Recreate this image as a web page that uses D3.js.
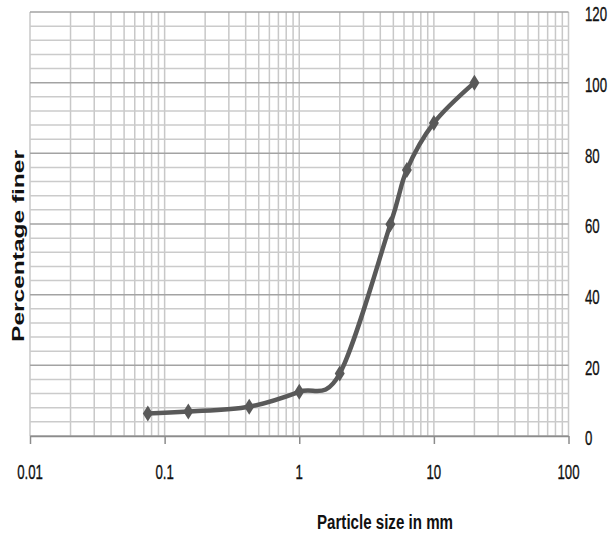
<!DOCTYPE html>
<html>
<head>
<meta charset="utf-8">
<script src="https://cdn.jsdelivr.net/npm/d3@7"></script>
<style>
  html, body { margin: 0; padding: 0; background: #ffffff; }
  svg { display: block; }
  text { font-family: "Liberation Sans", Arial, sans-serif; fill: #111111; }
  .ticklabel { stroke: #111111; stroke-width: 0.35px; }
</style>
</head>
<body>
<svg id="chart" width="611" height="535"></svg>
<script>
// Sieve analysis: particle size (mm) against cumulative percentage passing
const sizes  = [0.075, 0.15, 0.425, 1, 2, 4.75, 6.3, 10, 20];
const finer  = [6.4, 6.9, 8.3, 12.5, 17.7, 59.9, 75.3, 88.6, 100];
const xTickValues = [0.01, 0.1, 1, 10, 100];
const xTickLabels = ["0.01", "0.1", "1", "10", "100"];
const yTickValues = [0, 20, 40, 60, 80, 100, 120];
const yTickLabels = ["0", "20", "40", "60", "80", "100", "120"];
const xTitle = "Particle size in mm";
const yTitle = "Percentage finer";

const svg = d3.select("#chart");
const plotL = 30, plotR = 568.5, plotT = 12, plotB = 436;

const x = d3.scaleLog().domain([0.01, 100]).range([plotL, plotR]);
const y = d3.scaleLinear().domain([0, 120]).range([plotB, plotT]);

const data = sizes.map((s, i) => ({ s, p: finer[i] }));

// text is drawn tall and condensed
const SX = 0.63;

const grid = svg.append("g").attr("class", "grid");

// vertical grid: every 1..9 step within each decade
const minorX = [];
for (let d = -2; d < 2; d++) {
  for (let k = 1; k <= 9; k++) minorX.push(k * Math.pow(10, d));
}
minorX.push(100);
grid.selectAll("line.vx").data(minorX).join("line")
  .attr("class", "vx")
  .attr("x1", d => x(d)).attr("x2", d => x(d))
  .attr("y1", plotT).attr("y2", plotB)
  .attr("stroke", "#c8c8c8").attr("stroke-width", 1.5);

// horizontal grid: minor every 4, major every 20
const minorY = d3.range(0, 121, 4);
grid.selectAll("line.hy").data(minorY).join("line")
  .attr("class", "hy")
  .attr("x1", plotL).attr("x2", plotR)
  .attr("y1", d => y(d)).attr("y2", d => y(d))
  .attr("stroke", d => d % 20 === 0 ? "#a3a3a3" : "#cbcbcb")
  .attr("stroke-width", 1.5);

// bottom axis
const xAxis = d3.axisBottom(x)
  .tickValues(xTickValues)
  .tickFormat(() => "")
  .tickSizeInner(8).tickSizeOuter(0);
const gx = svg.append("g").attr("transform", `translate(0,${plotB})`).call(xAxis);
gx.select(".domain").attr("stroke", "#8c8c8c").attr("stroke-width", 1.5);
gx.selectAll(".tick line").attr("stroke", "#8c8c8c").attr("stroke-width", 1.5);

// x tick labels
svg.append("g").selectAll("text").data(xTickValues).join("text")
  .attr("class", "ticklabel")
  .attr("transform", d => `translate(${x(d)},479) scale(${SX},1)`)
  .attr("text-anchor", "middle")
  .style("font-size", "21px")
  .text((d, i) => xTickLabels[i]);

// y tick labels on the right
svg.append("g").selectAll("text").data(yTickValues).join("text")
  .attr("class", "ticklabel")
  .attr("transform", d => `translate(585,${y(d) + 2}) scale(${SX},1)`)
  .attr("text-anchor", "start")
  .attr("dominant-baseline", "central")
  .style("font-size", "21px")
  .text((d, i) => yTickLabels[i]);

// axis titles
svg.append("text")
  .attr("transform", `translate(385,529) scale(0.72,1)`)
  .attr("text-anchor", "middle")
  .style("font-size", "21px").style("font-weight", "bold")
  .text(xTitle);

svg.append("text")
  .attr("transform", `translate(24,246) rotate(-90) scale(1,0.68)`)
  .attr("text-anchor", "middle")
  .style("font-size", "24.5px").style("font-weight", "bold")
  .text(yTitle);

// smoothed gradation curve
const line = d3.line()
  .x(d => x(d.s)).y(d => y(d.p))
  .curve(d3.curveCardinal.tension(0));

svg.append("path")
  .datum(data)
  .attr("d", line)
  .attr("fill", "none")
  .attr("stroke", "#595959")
  .attr("stroke-width", 4.5)
  .attr("stroke-linejoin", "round");

// diamond markers
const hw = 5, hh = 8;
svg.append("g").selectAll("path").data(data).join("path")
  .attr("transform", d => `translate(${x(d.s)},${y(d.p)})`)
  .attr("d", `M0,${-hh}L${hw},0L0,${hh}L${-hw},0Z`)
  .attr("fill", "#595959");
</script>
</body>
</html>
